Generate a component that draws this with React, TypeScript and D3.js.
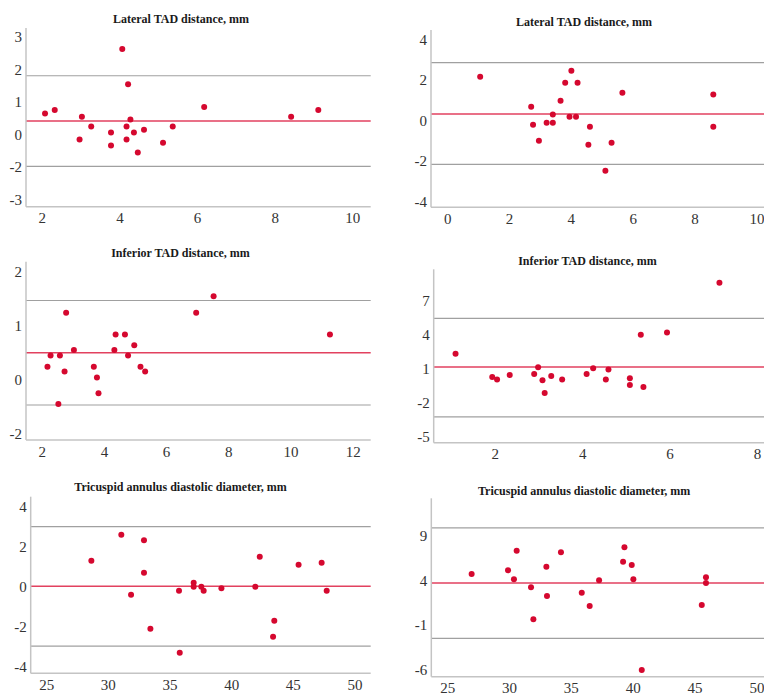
import React from "react";
import * as d3 from "d3";

// Lateral TAD distance (left)
const latAX = [2.07, 2.32, 2.96, 3.02, 3.26, 3.77, 3.77, 4.06, 4.21, 4.17, 4.17, 4.27, 4.36, 4.46, 4.62, 5.11, 5.36, 6.17, 8.41, 9.11];
const latAY = [0.66, 0.77, -0.14, 0.56, 0.26, 0.07, -0.33, 2.64, 1.56, 0.26, -0.14, 0.47, 0.07, -0.54, 0.16, -0.24, 0.26, 0.86, 0.56, 0.77];
const latALines = [1.82, 0.43, -0.97];
const latAYTicks = [3, 2, 1, 0, -1, -2];
const latAYLabels = ["3", "2", "1", "0", "-2", "-3"];
const latAXTicks = [2, 4, 6, 8, 10];

// Lateral TAD distance (right)
const latBX = [1.05, 2.7, 2.76, 2.95, 3.2, 3.4, 3.4, 3.65, 3.8, 3.94, 4.0, 4.15, 4.2, 4.55, 4.6, 5.1, 5.3, 5.65, 8.59, 8.59];
const latBY = [2.19, 0.7, -0.19, -0.98, -0.09, 0.31, -0.09, 1.0, 1.89, 0.21, 2.48, 0.21, 1.89, -1.18, -0.29, -2.47, -1.08, 1.39, 1.3, -0.29];
const latBLines = [2.88, 0.34, -2.15];
const latBYTicks = [4, 2, 0, -2, -4];
const latBYLabels = ["4", "2", "0", "-2", "-4"];
const latBXTicks = [0, 2, 4, 6, 8, 10];

// Inferior TAD distance (left)
const infAX = [2.17, 2.27, 2.52, 2.57, 2.72, 2.77, 3.02, 3.66, 3.76, 3.81, 4.32, 4.36, 4.66, 4.76, 4.96, 5.16, 5.31, 6.95, 7.51, 11.25];
const infAY = [0.24, 0.45, -0.45, 0.45, 0.15, 1.24, 0.55, 0.24, 0.04, -0.25, 0.55, 0.84, 0.84, 0.45, 0.64, 0.24, 0.15, 1.24, 1.55, 0.84];
const infALines = [1.47, 0.5, -0.47];
const infAYTicks = [2, 1, 0, -1];
const infAYLabels = ["2", "1", "0", "-2"];
const infAXTicks = [2, 4, 6, 8, 10, 12];

// Inferior TAD distance (right)
const infBX = [1.09, 1.93, 2.04, 2.33, 2.89, 2.98, 3.08, 3.13, 3.28, 3.53, 4.09, 4.24, 4.53, 4.59, 5.08, 5.08, 5.33, 5.39, 5.93, 7.13];
const infBY = [2.36, 0.31, 0.1, 0.48, 0.57, 1.16, 0.02, -1.1, 0.4, 0.1, 0.57, 1.07, 0.1, 0.98, 0.19, -0.4, 4.03, -0.57, 4.24, 8.61];
const infBLines = [5.48, 1.19, -3.21];
const infBYTicks = [7, 4, 1, -2, -5];
const infBYLabels = ["7", "4", "1", "-2", "-5"];
const infBXTicks = [2, 4, 6, 8];

// Tricuspid annulus diastolic diameter (left)
const triAX = [28.62, 31.05, 31.84, 32.89, 32.89, 33.41, 35.73, 35.79, 36.92, 36.92, 37.54, 37.73, 39.17, 41.92, 42.28, 43.36, 43.46, 45.43, 47.3, 47.71];
const triAY = [1.3, 2.6, -0.4, 2.32, 0.7, -2.1, -0.2, -3.3, 0.2, 0.0, 0.0, -0.2, -0.08, 0.0, 1.5, -2.5, -1.7, 1.1, 1.2, -0.2];
const triALines = [3.0, 0.02, -2.97];
const triAYTicks = [4, 2, 0, -2, -4];
const triAYLabels = ["4", "2", "0", "-2", "-4"];
const triAXTicks = [25, 30, 35, 40, 45, 50];

// Tricuspid annulus diastolic diameter (right)
const triBX = [26.94, 29.88, 30.36, 30.58, 31.74, 31.93, 32.98, 33.03, 34.16, 35.84, 36.48, 37.24, 39.18, 39.29, 39.88, 40.01, 40.69, 45.54, 45.88, 45.88];
const triBY = [4.75, 5.16, 4.15, 7.36, 3.26, -0.33, 5.57, 2.28, 7.18, 2.66, 1.16, 4.04, 6.13, 7.74, 5.76, 4.15, -6.0, 1.28, 4.38, 3.74];
const triBLines = [9.9, 3.74, -2.45];
const triBYTicks = [9, 4, -1, -6];
const triBYLabels = ["9", "4", "-1", "-6"];
const triBXTicks = [25, 30, 35, 40, 45, 50];

const latTitle = "Lateral TAD distance, mm";
const infTitle = "Inferior TAD distance, mm";
const triTitle = "Tricuspid annulus diastolic diameter, mm";

const panels = [
  { title: latTitle, xs: latAX, ys: latAY, lines: latALines, yTicks: latAYTicks, yLabels: latAYLabels, xTicks: latAXTicks,
    box: [26, 28, 370.7, 206.7], xDom: [1.58, 10.46], yDom: [-2.21, 3.29], titleX: 181, titleY: 23 },
  { title: latTitle, xs: latBX, ys: latBY, lines: latBLines, yTicks: latBYTicks, yLabels: latBYLabels, xTicks: latBXTicks,
    box: [431, 30, 764, 207.3], xDom: [-0.54, 10.23], yDom: [-4.28, 4.5], titleX: 584, titleY: 26 },
  { title: infTitle, xs: infAX, ys: infAY, lines: infALines, yTicks: infAYTicks, yLabels: infAYLabels, xTicks: infAXTicks,
    box: [26, 261.7, 370.7, 440], xDom: [1.48, 12.56], yDom: [-1.12, 2.19], titleX: 180.5, titleY: 256.7 },
  { title: infTitle, xs: infBX, ys: infBY, lines: infBLines, yTicks: infBYTicks, yLabels: infBYLabels, xTicks: infBXTicks,
    box: [433.7, 269.3, 764, 442.7], xDom: [0.59, 8.15], yDom: [-5.48, 9.8], titleX: 587.5, titleY: 264.7 },
  { title: triTitle, xs: triAX, ys: triAY, lines: triALines, yTicks: triAYTicks, yLabels: triAYLabels, xTicks: triAXTicks,
    box: [30.7, 496.7, 370.7, 673.3], xDom: [23.7, 51.28], yDom: [-4.33, 4.5], titleX: 180.5, titleY: 491.3 },
  { title: triTitle, xs: triBX, ys: triBY, lines: triBLines, yTicks: triBYTicks, yLabels: triBYLabels, xTicks: triBXTicks,
    box: [431.3, 498.3, 764, 676.7], xDom: [23.68, 50.57], yDom: [-6.75, 13.22], titleX: 584.2, titleY: 494.7 },
];

const serif = { fontFamily: "Liberation Serif" };

function Panel({ p }: { p: any }) {
  const [l, t, r, b] = p.box;
  const x = d3.scaleLinear().domain(p.xDom).range([l, r]);
  const y = d3.scaleLinear().domain(p.yDom).range([b, t]);
  return (
    <g>
      <text x={p.titleX} y={p.titleY} textAnchor="middle" style={serif} fontWeight="bold" fontSize={12} fill="#1a1a1a">
        {p.title}
      </text>
      {p.lines.map((v: number, i: number) => (
        <line key={i} x1={l} x2={r} y1={y(v)} y2={y(v)}
          stroke={i === 1 ? "#e2415f" : "#a0a0a0"} strokeWidth={i === 1 ? 1.5 : 1.2} />
      ))}
      <line x1={l} x2={l} y1={t} y2={b} stroke="#c4c4c4" strokeWidth={1.5} />
      <line x1={l} x2={r} y1={b} y2={b} stroke="#c4c4c4" strokeWidth={1.5} />
      {p.yTicks.map((v: number, i: number) => (
        <text key={i} x={l - 4} y={y(v) + 5} textAnchor="end" style={serif} fontSize={15} fill="#333">
          {p.yLabels[i]}
        </text>
      ))}
      {p.xTicks.map((v: number) => (
        <text key={v} x={x(v)} y={b + 16.5} textAnchor="middle" style={serif} fontSize={15} fill="#333">
          {v}
        </text>
      ))}
      {p.xs.map((v: number, i: number) => (
        <circle key={i} cx={x(v)} cy={y(p.ys[i])} r={3} fill="#d5082f" />
      ))}
    </g>
  );
}

export default function App() {
  return (
    <svg width={764} height={693} style={{ position: "absolute", left: 0, top: 0, background: "#fff" }}>
      {panels.map((p, i) => (
        <Panel key={i} p={p} />
      ))}
    </svg>
  );
}
